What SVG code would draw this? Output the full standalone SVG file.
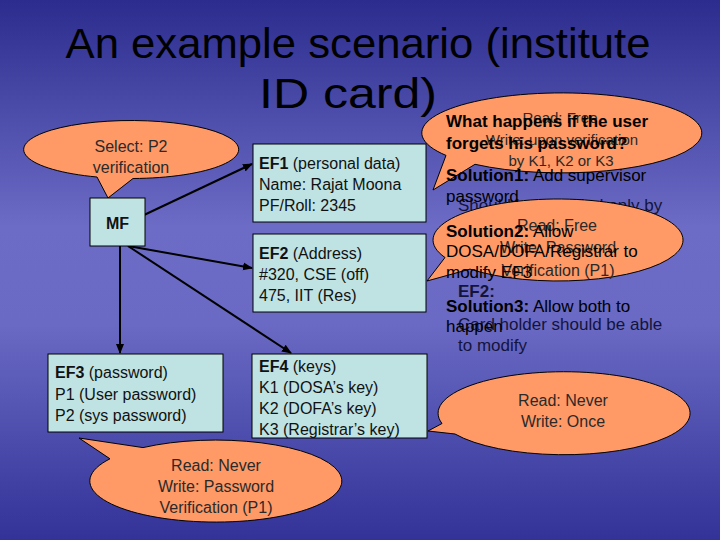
<svg xmlns="http://www.w3.org/2000/svg" width="720" height="540" viewBox="0 0 720 540">
<defs>
<linearGradient id="bg" x1="0" y1="0" x2="0" y2="1">
<stop offset="0" stop-color="#2c2c8e"/>
<stop offset="0.42" stop-color="#6c6cc6"/>
<stop offset="0.6" stop-color="#6a6ac4"/>
<stop offset="1" stop-color="#323298"/>
</linearGradient>
<marker id="arr" viewBox="0 0 10 10" refX="9" refY="5" markerWidth="5" markerHeight="5" orient="auto" markerUnits="strokeWidth">
<path d="M0,1 L10,5 L0,9 z" fill="#000"/>
</marker>
<style>
.box{fill:#bfe3e3;stroke:#000;stroke-width:1}
.call{fill:#ff9966;stroke:#000;stroke-width:1}
.t{font-family:"Liberation Sans",Arial,sans-serif;font-size:16px;fill:#111}
.c{font-family:"Liberation Sans",Arial,sans-serif;font-size:16px;fill:#2a2a2a;text-anchor:middle}
.r{font-family:"Liberation Sans",Arial,sans-serif;font-size:17px;fill:#000}
.u{font-family:"Liberation Sans",Arial,sans-serif;font-size:17px;fill:#14143a}
.b{font-weight:bold}
.conn{stroke:#000;stroke-width:2;fill:none;marker-end:url(#arr)}
</style>
</defs>
<rect width="720" height="540" fill="url(#bg)"/>
<g id="title">
<text x="358" y="58" font-family="Liberation Sans,Arial,sans-serif" font-size="43" text-anchor="middle" textLength="585" lengthAdjust="spacingAndGlyphs">An example scenario (institute</text>
<text x="348" y="108" font-family="Liberation Sans,Arial,sans-serif" font-size="43" text-anchor="middle" textLength="178" lengthAdjust="spacingAndGlyphs">ID card)</text>
</g>
<g id="connectors">
<line class="conn" x1="144" y1="215" x2="252" y2="164"/>
<line class="conn" x1="128" y1="246" x2="252" y2="268"/>
<line class="conn" x1="128" y1="246" x2="291" y2="353"/>
<line class="conn" x1="120" y1="246" x2="120" y2="353"/>
</g>
<g id="callout-select">
<path class="call" d="M97 177 A107.5 29 0 1 1 133 178.5 L108 198 Z"/>
<text class="c" x="131" y="152">Select: P2</text>
<text class="c" x="131" y="173">verification</text>
</g>
<g id="MF">
<rect class="box" x="90" y="198" width="55" height="48"/>
<text class="t b" x="117.5" y="229" text-anchor="middle">MF</text>
</g>
<g id="EF1">
<rect class="box" x="253" y="144" width="173" height="78"/>
<text class="t" x="259" y="169"><tspan class="b">EF1</tspan> (personal data)</text>
<text class="t" x="259" y="190">Name: Rajat Moona</text>
<text class="t" x="259" y="211">PF/Roll: 2345</text>
</g>
<g id="EF2">
<rect class="box" x="253" y="234" width="173" height="78"/>
<text class="t" x="259" y="259"><tspan class="b">EF2</tspan> (Address)</text>
<text class="t" x="259" y="280">#320, CSE (off)</text>
<text class="t" x="259" y="301">475, IIT (Res)</text>
</g>
<g id="EF3">
<rect class="box" x="48" y="354" width="175" height="78"/>
<text class="t" x="55" y="378"><tspan class="b">EF3</tspan> (password)</text>
<text class="t" x="55" y="400">P1 (User password)</text>
<text class="t" x="55" y="421">P2 (sys password)</text>
</g>
<g id="EF4">
<rect class="box" x="252" y="354" width="175" height="84"/>
<text class="t" x="259" y="372"><tspan class="b">EF4</tspan> (keys)</text>
<text class="t" x="259" y="393">K1 (DOSA’s key)</text>
<text class="t" x="259" y="414">K2 (DOFA’s key)</text>
<text class="t" x="259" y="435">K3 (Registrar’s key)</text>
</g>
<g id="callout-ef3">
<path class="call" d="M143 447.6 A126 41 0 1 1 110 458.8 L79 438 Z"/>
<text class="c" x="216" y="471">Read: Never</text>
<text class="c" x="216" y="492">Write: Password</text>
<text class="c" x="216" y="513">Verification (P1)</text>
</g>
<g id="callout-ef4">
<path class="call" d="M442 423.5 A126 41.5 0 1 1 455 434 L428 431 Z"/>
<text class="c" x="563" y="406">Read: Never</text>
<text class="c" x="563" y="427">Write: Once</text>
</g>
<g id="callout-ef1">
<path class="call" d="M446 155.4 A140 40 0 1 1 475 164.3 L433 190 Z"/>
<text class="c" x="560" y="123" style="font-size:15px">Read: Free</text>
<text class="c" x="562" y="145" style="font-size:15px">Write: upon verification</text>
<text class="c" x="561" y="166" style="font-size:15px">by K1, K2 or K3</text>
</g>
<g id="notes-under">
<text class="u" x="458" y="211">Should be modified only by</text>
</g>
<g id="callout-ef2">
<path class="call" d="M445 257.5 A125 41 0 1 1 470 269.1 L427 281 Z"/>
<text class="c" x="557" y="231">Read: Free</text>
<text class="c" x="558" y="253">Write: Password</text>
<text class="c" x="558" y="276">Verification (P1)</text>
</g>
<g id="notes">
<text class="u b" x="458" y="297">EF2:</text>
<text class="u" x="458" y="330">Card holder should be able</text>
<text class="u" x="458" y="351">to modify</text>
<text class="r b" x="446" y="127">What happens if the user</text>
<text class="r b" x="446" y="149">forgets his password?</text>
<text class="r" x="446" y="181"><tspan class="b">Solution1:</tspan> Add supervisor</text>
<text class="r" x="446" y="202">password</text>
<text class="r" x="446" y="237"><tspan class="b">Solution2:</tspan> Allow</text>
<text class="r" x="446" y="257">DOSA/DOFA/Registrar to</text>
<text class="r" x="446" y="278">modify EF3</text>
<text class="r" x="446" y="312"><tspan class="b">Solution3:</tspan> Allow both to</text>
<text class="r" x="446" y="332">happen</text>
</g>
</svg>
